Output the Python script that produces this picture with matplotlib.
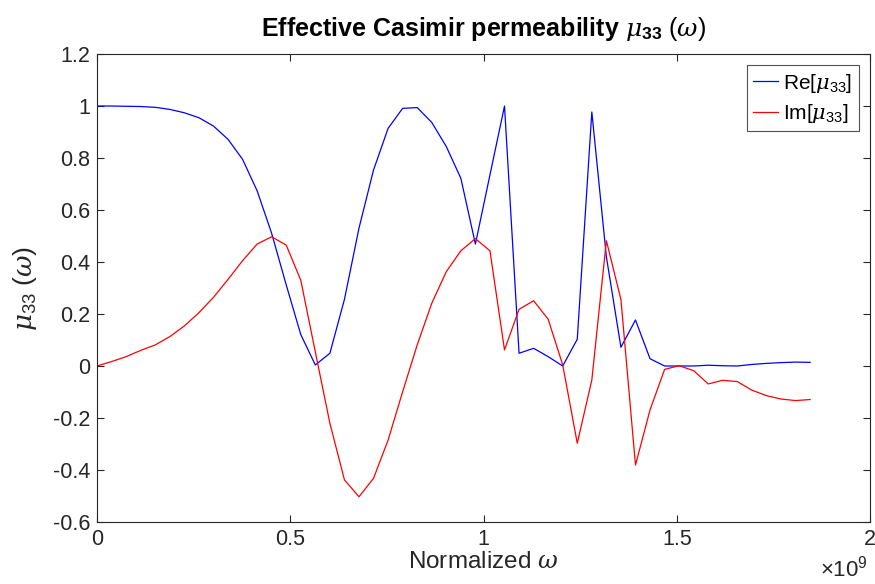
import matplotlib.pyplot as plt
import matplotlib.ticker as mticker
import numpy as np

plt.rcParams['font.family'] = ['Liberation Sans', 'DejaVu Sans']
plt.rcParams['mathtext.fontset'] = 'custom'
plt.rcParams['mathtext.rm'] = 'Liberation Sans'
plt.rcParams['mathtext.bf'] = 'Liberation Sans:bold'
plt.rcParams['mathtext.it'] = 'DejaVu Serif:italic'

# normalized frequency grid (50 samples)
omega = np.linspace(0, 1.845e9, 50)

re_mu33 = [1.0, 1.0, 0.999, 0.998, 0.995, 0.987, 0.974, 0.955, 0.923, 0.872,
           0.795, 0.674, 0.510, 0.312, 0.121, 0.004, 0.049, 0.256, 0.530, 0.754,
           0.914, 0.991, 0.994, 0.937, 0.844, 0.722, 0.469, 0.735, 1.0, 0.049,
           0.068, 0.036, 0.0, 0.103, 0.977, 0.420, 0.072, 0.177, 0.028, 0.0,
           0.0, 0.0, 0.003, 0.001, 0.0, 0.006, 0.010, 0.013, 0.015, 0.014]

im_mu33 = [0.0, 0.017, 0.036, 0.060, 0.081, 0.113, 0.154, 0.205, 0.264, 0.333,
           0.405, 0.469, 0.497, 0.465, 0.330, 0.054, -0.220, -0.438, -0.503, -0.432,
           -0.285, -0.099, 0.081, 0.241, 0.363, 0.443, 0.490, 0.443, 0.062, 0.218,
           0.251, 0.180, 0.004, -0.297, -0.054, 0.482, 0.256, -0.381, -0.169, -0.013,
           0.001, -0.018, -0.069, -0.055, -0.060, -0.093, -0.114, -0.127, -0.133, -0.129]

fig = plt.figure(figsize=(8.75, 5.84), dpi=100)
ax = fig.add_axes([0.1109, 0.1062, 0.8834, 0.8013])

ax.plot(omega, re_mu33, color='#0000ff', lw=0.9, label=r'Re[$\mu_{\mathrm{33}}$]')
ax.plot(omega, im_mu33, color='#ff0000', lw=0.9, label=r'Im[$\mu_{\mathrm{33}}$]')

ax.set_xlim(0, 2e9)
ax.set_ylim(-0.6, 1.2)
ax.set_xticks([0, 0.5e9, 1e9, 1.5e9, 2e9])
ax.xaxis.set_major_formatter(mticker.FuncFormatter(lambda v, p: f'{v / 1e9:g}'))
ax.set_yticks(np.arange(-0.6, 1.21, 0.2))
ax.yaxis.set_major_formatter(mticker.FuncFormatter(lambda v, p: f'{round(v, 1):g}'))

ax.tick_params(direction='in', top=True, right=True, labelsize=15.5, length=5,
               color='#262626', labelcolor='#262626', pad=5)
for s in ax.spines.values():
    s.set_color('#262626')
    s.set_linewidth(0.8)

ax.set_xlabel(r'Normalized $\omega$', fontsize=17.5, color='#262626', labelpad=1)
ax.set_ylabel(r'$\mu_{\mathrm{33}}$ $(\omega)$', fontsize=19, color='#262626', labelpad=10)
ax.set_title(r'Effective Casimir permeability $\mu_{\mathbf{33}}$ $(\omega)$',
             fontsize=18, fontweight='bold', pad=13)

# MATLAB-style exponent under the x axis
ax.text(0.997, -0.117, r'$\times\mathrm{10^{9}}$', transform=ax.transAxes,
        fontsize=16, ha='right', va='baseline', color='#262626')

leg = ax.legend(loc='upper right', fontsize=15, frameon=True, fancybox=False,
                handlelength=1.2, handletextpad=0.25, borderpad=0.3,
                labelspacing=0.35, borderaxespad=0.55)
leg.get_frame().set_edgecolor('#262626')
leg.get_frame().set_linewidth(0.8)

fig.savefig('out.png', dpi=100)
